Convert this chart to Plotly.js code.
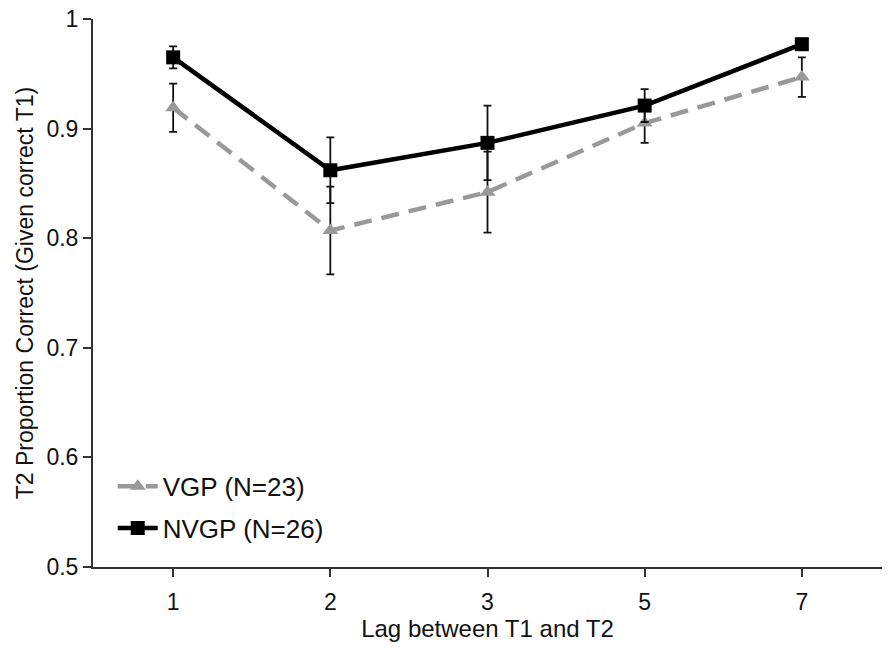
<!DOCTYPE html>
<html>
<head>
<meta charset="utf-8">
<script src="https://cdn.plot.ly/plotly-3.0.1.min.js"></script>
<style>
 body { margin:0; background:#fff; }
 #myDiv { width:892px; height:652px; }
</style>
</head>
<body>
<div id="myDiv"></div>
<script>
// lag categories
var lags = ['1', '2', '3', '5', '7'];

// T2 proportion correct, given correct T1
var vgp = [0.919, 0.807, 0.842, 0.905, 0.947];
var vgpErr = [0.022, 0.040, 0.037, 0.018, 0.018];

var nvgp = [0.965, 0.862, 0.887, 0.921, 0.977];
var nvgpErr = [0.010, 0.030, 0.034, 0.015, 0.005];

var yTicks = [0.5, 0.6, 0.7, 0.8, 0.9, 1];
var yTickText = ['0.5', '0.6', '0.7', '0.8', '0.9', '1'];

var data = [
    {
     type: 'scatter',
     mode: 'lines+markers',
     name: 'VGP (N=23)',
     legendgroup: 'vgp',
     x: lags,
     y: vgp,
     line: {color: '#999999', width: 4.5, dash: '18px,10px'},
     marker: {symbol: 'triangle-up', size: 14, color: '#999999'},
     error_y: {type: 'data', array: vgpErr, visible: true, color: '#111', thickness: 1.8, width: 4}
    },
    {
     type: 'scatter',
     mode: 'lines+markers',
     name: 'NVGP (N=26)',
     legendgroup: 'nvgp',
     x: lags,
     y: nvgp,
     line: {color: '#000000', width: 4.5},
     marker: {symbol: 'square', size: 14, color: '#000000'},
     error_y: {type: 'data', array: nvgpErr, visible: true, color: '#111', thickness: 1.8, width: 4}
    }
];

var layout = {
    width: 892,
    height: 652,
    margin: {l: 93, r: 10, t: 19, b: 85},
    paper_bgcolor: '#fff',
    plot_bgcolor: '#fff',
    font: {family: 'Liberation Sans, Arial, sans-serif', size: 24, color: '#111'},
    showlegend: true,
    legend: {
     x: 0.025, y: 0.19, xanchor: 'left', yanchor: 'top',
     bgcolor: 'rgba(0,0,0,0)',
     font: {size: 26, color: '#111'},
     itemwidth: 40,
     tracegroupgap: 5
    },
    xaxis: {
     type: 'category',
     range: [-0.51, 4.51],
     showline: true, linecolor: '#333', linewidth: 2,
     showgrid: false, zeroline: false,
     ticks: 'outside', ticklen: 8, tickwidth: 1.5, tickcolor: '#333',
     ticklabelstandoff: 5,
     tickfont: {size: 23},
     title: {text: 'Lag between T1 and T2', font: {size: 24}, standoff: 4}
    },
    yaxis: {
     range: [0.5, 1],
     tickvals: yTicks,
     ticktext: yTickText,
     showline: true, linecolor: '#333', linewidth: 2,
     showgrid: false, zeroline: false,
     ticks: 'outside', ticklen: 8, tickwidth: 1.5, tickcolor: '#333',
     tickfont: {size: 23},
     title: {text: 'T2 Proportion Correct (Given correct T1)', font: {size: 23}, standoff: 6}
    }
};

Plotly.newPlot('myDiv', data, layout, {displayModeBar: false});
</script>
</body>
</html>
